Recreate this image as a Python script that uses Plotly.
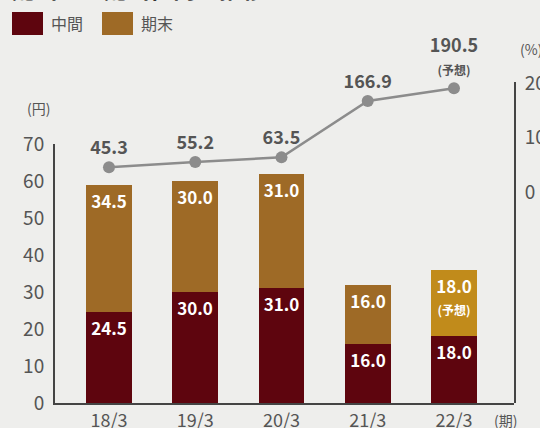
import plotly.graph_objects as go

categories = ["18/3", "19/3", "20/3", "21/3", "22/3"]
interim = [24.5, 30.0, 31.0, 16.0, 18.0]
year_end = [34.5, 30.0, 31.0, 16.0, 18.0]
payout = [45.3, 55.2, 63.5, 166.9, 190.5]
forecast = [False, False, False, False, True]

series_names = ["中間", "期末"]
title_text = "配当金と配当性向の推移"

W, H = 540, 428
L, R, T, B = 55, 26, 82, 25
PW, PH = W - L - R, H - T - B


def px(x):
    return (x - L) / PW


def py(y):
    return 1 - (y - T) / PH


C_INT = "#5e050e"
C_END = "#9e6a26"
C_END_F = "#c18b1b"
C_LINE = "#8c8c8c"
FONT = "Noto Sans CJK JP"
SMALL = "<span style='font-size:12px'>(予想)</span>"


def lab(v, f):
    return f"{v:.1f}" + (f"<br>{SMALL}" if f else "")


fig = go.Figure()
fig.add_trace(go.Bar(
    x=categories, y=interim, name=series_names[0], yaxis="y",
    marker=dict(color=C_INT, line=dict(width=0)),
    text=[f"{v:.1f}" for v in interim], textposition="inside",
    insidetextanchor="end", constraintext="none",
    textfont=dict(color="white", size=17, family=FONT, weight="bold"),
    width=0.533, showlegend=False,
))
fig.add_trace(go.Bar(
    x=categories, y=year_end, name=series_names[1], yaxis="y",
    marker=dict(color=[C_END_F if f else C_END for f in forecast], line=dict(width=0)),
    text=[lab(v, f) for v, f in zip(year_end, forecast)], textposition="inside",
    insidetextanchor="end", constraintext="none",
    textfont=dict(color="white", size=17, family=FONT, weight="bold"),
    width=0.533, showlegend=False,
))
fig.add_trace(go.Scatter(
    x=categories, y=payout, yaxis="y2", mode="lines+markers+text",
    line=dict(color=C_LINE, width=2.5),
    marker=dict(color=C_LINE, size=12),
    text=[lab(v, f) for v, f in zip(payout, forecast)],
    textposition="top center",
    textfont=dict(color="#555555", size=18, family=FONT, weight="bold"),
    showlegend=False, cliponaxis=False,
))

ann = []
shapes = []
# legend swatches
for name, color, x0 in [(series_names[0], C_INT, 12), (series_names[1], C_END, 102)]:
    shapes.append(dict(type="rect", xref="paper", yref="paper",
                       x0=px(x0), x1=px(x0 + 31), y0=py(35), y1=py(12),
                       fillcolor=color, line=dict(width=0)))
    ann.append(dict(text=name, x=px(x0 + 37), y=py(23), xref="paper", yref="paper",
                    xanchor="left", yanchor="middle", showarrow=False,
                    font=dict(size=16, color="#555555", family=FONT)))

ann.append(dict(text=title_text, x=px(10), y=py(-12), xref="paper", yref="paper",
                xanchor="left", yanchor="middle", showarrow=False,
                font=dict(size=23, color="#333333", family=FONT, weight="bold")))
ann.append(dict(text="(円)", x=px(38), y=py(108), xref="paper", yref="paper",
                xanchor="center", yanchor="middle",
                showarrow=False, font=dict(size=14, color="#555555", family=FONT)))
ann.append(dict(text="(%)", x=px(518), y=py(49), xref="paper", yref="paper",
                xanchor="left", yanchor="middle",
                showarrow=False, font=dict(size=14, color="#555555", family=FONT)))
ann.append(dict(text="(期)", x=px(505), y=py(420), xref="paper", yref="paper",
                xanchor="center", yanchor="middle",
                showarrow=False, font=dict(size=14, color="#555555", family=FONT)))

fig.update_layout(
    width=W, height=H,
    margin=dict(l=L, r=R, t=T, b=B, pad=0),
    paper_bgcolor="#eeeeec", plot_bgcolor="rgba(0,0,0,0)",
    barmode="stack", bargap=0,
    font=dict(family=FONT, color="#555555"),
    xaxis=dict(type="category", range=[-0.626, 4.696], showline=True,
               linecolor="#444444", linewidth=2, showgrid=False, zeroline=False,
               ticks="", tickfont=dict(size=18, color="#555555"),
               ticklabelstandoff=0,
               anchor="y", automargin=False, fixedrange=True,
               ticklabeloverflow="allow"),
    yaxis=dict(domain=[0, (403 - 144) / PH], range=[0, 70], dtick=10,
               showline=True, linecolor="#444444", linewidth=2, showgrid=False,
               zeroline=False, ticks="", ticklabelstandoff=5,
               tickfont=dict(size=19, color="#555555"), automargin=False),
    yaxis2=dict(domain=[0, 1], range=[-387.2, 201.8], tickvals=[0, 100, 200],
                side="right", anchor="x", showline=True, linecolor="#444444",
                linewidth=2, showgrid=False, zeroline=False, ticks="",
                ticklabelstandoff=5, tickfont=dict(size=19, color="#555555"),
                automargin=False, ticklabeloverflow="allow"),
    annotations=ann, shapes=shapes,
)

fig.write_html(
    "out.html",
    config={"displayModeBar": False},
    post_script="document.body.style.margin='0';document.body.style.overflow='hidden';",
)
